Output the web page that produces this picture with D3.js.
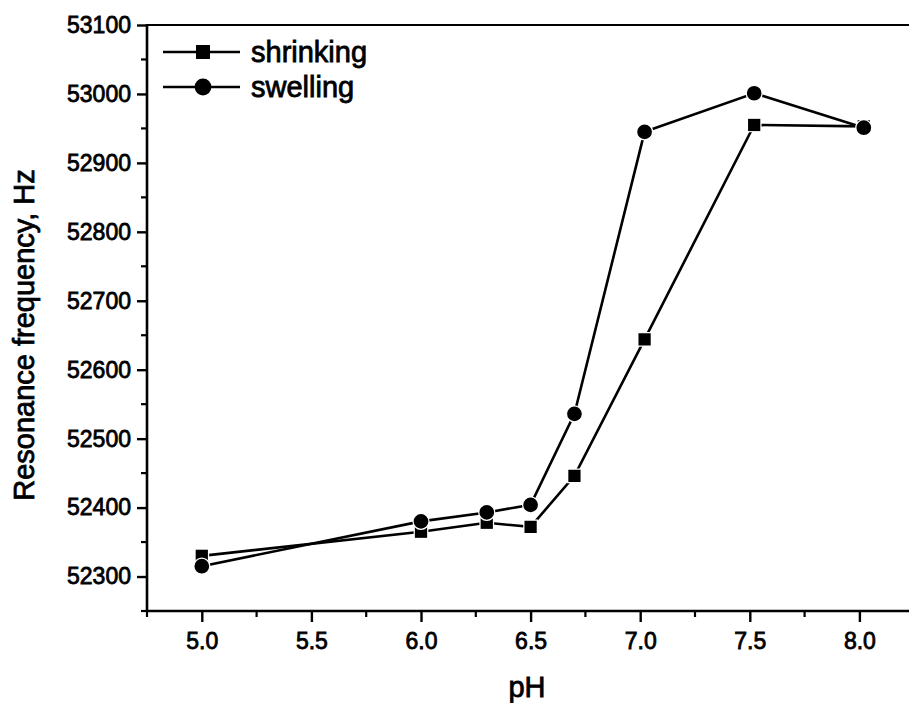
<!DOCTYPE html>
<html>
<head>
<meta charset="utf-8">
<script src="https://cdn.jsdelivr.net/npm/d3@7"></script>
<style>
  html, body { margin: 0; padding: 0; background: #fff; }
  svg { display: block; }
  text { font-family: "Liberation Sans", Arial, sans-serif; fill: #000; }
</style>
</head>
<body>
<svg id="chart" width="909" height="703"></svg>
<script>
// pH sweep values and measured resonance frequencies (Hz)
const pH = [5.0, 6.0, 6.3, 6.5, 6.7, 7.02, 7.52, 8.02];
const shrinking = [52330, 52365, 52378, 52372, 52446, 52644, 52955, 52953];
const swelling  = [52315, 52380, 52393, 52404, 52536, 52945, 53001, 52951];

const xTicks = [5.0, 5.5, 6.0, 6.5, 7.0, 7.5, 8.0];
const yTicks = [52300, 52400, 52500, 52600, 52700, 52800, 52900, 53000, 53100];
const seriesNames = ["shrinking", "swelling"];

const svg = d3.select("#chart");
const W = 909, H = 703;
svg.append("rect").attr("width", W).attr("height", H).attr("fill", "#fff");

const plotLeft = 147, plotTop = 25, plotBottom = 611;
const x = d3.scaleLinear().domain([4.75, 8.25]).range([plotLeft, plotLeft + 3.5 * 219.2]);
const y = d3.scaleLinear().domain([52250, 53100]).range([plotBottom, plotTop]);

const axisW = 2.6;
const textStroke = 0.8;

// frame top line (right edge falls outside the view)
svg.append("line")
  .attr("x1", plotLeft).attr("x2", x(8.25))
  .attr("y1", plotTop).attr("y2", plotTop)
  .attr("stroke", "#000").attr("stroke-width", 2.2);

// minor ticks
const xMinor = d3.range(4.75, 8.26, 0.25).filter(v => !xTicks.some(t => Math.abs(t - v) < 1e-6));
const yMinor = d3.range(52250, 53101, 50).filter(v => !yTicks.includes(v));

const gx = svg.append("g").attr("transform", `translate(0,${plotBottom})`);
gx.call(d3.axisBottom(x).tickValues(xTicks).tickFormat(d3.format(".1f")).tickSize(11).tickPadding(11));
gx.selectAll(".minor").data(xMinor).enter().append("line")
  .attr("x1", d => x(d)).attr("x2", d => x(d)).attr("y1", 0).attr("y2", 6)
  .attr("stroke", "#000").attr("stroke-width", 2.2);

const gy = svg.append("g").attr("transform", `translate(${plotLeft},0)`);
gy.call(d3.axisLeft(y).tickValues(yTicks).tickFormat(d3.format("d")).tickSize(10).tickPadding(6));
gy.selectAll(".minor").data(yMinor).enter().append("line")
  .attr("x1", 0).attr("x2", -6).attr("y1", d => y(d)).attr("y2", d => y(d))
  .attr("stroke", "#000").attr("stroke-width", 2.2);

[gx, gy].forEach(g => {
  g.select(".domain").attr("stroke", "#000").attr("stroke-width", axisW);
  g.selectAll(".tick line").attr("stroke", "#000").attr("stroke-width", 2.4);
  g.selectAll(".tick text")
    .style("font-family", "'Liberation Sans', Arial, sans-serif")
    .style("font-size", "23px")
    .attr("fill", "#000")
    .attr("stroke", "#000").attr("stroke-width", textStroke);
});
gx.select(".domain").attr("d", `M${plotLeft},0H${x(8.25)}`);
gy.select(".domain").attr("d", `M0,${plotBottom + 1}V${plotTop - 1}`);

// axis titles
svg.append("text")
  .attr("x", 527).attr("y", 697)
  .attr("text-anchor", "middle")
  .style("font-size", "29px")
  .attr("stroke", "#000").attr("stroke-width", textStroke)
  .text("pH");
svg.append("text")
  .attr("transform", "translate(34,335) rotate(-90)")
  .attr("text-anchor", "middle")
  .style("font-size", "29px")
  .attr("stroke", "#000").attr("stroke-width", textStroke)
  .text("Resonance frequency, Hz");

// data lines
const line = d3.line().x(d => x(d[0])).y(d => y(d[1]));
const series = [
  { name: seriesNames[0], values: shrinking, shape: d3.symbolSquare, size: 150 },
  { name: seriesNames[1], values: swelling, shape: d3.symbolCircle, size: 170 }
];

series.forEach(s => {
  const pts = pH.map((p, i) => [p, s.values[i]]);
  svg.append("path").datum(pts)
    .attr("d", line)
    .attr("fill", "none").attr("stroke", "#000").attr("stroke-width", 2.6);
});
// markers with a white rim so lines stop short of them
series.forEach(s => {
  svg.append("g").selectAll("path")
    .data(pH.map((p, i) => [p, s.values[i]]))
    .enter().append("path")
    .attr("transform", d => `translate(${x(d[0])},${y(d[1])})`)
    .attr("d", d3.symbol().type(s.shape).size(s.size))
    .attr("fill", "#000").attr("stroke", "#fff").attr("stroke-width", 2.5)
    .attr("paint-order", "stroke");
});

// legend
const legend = svg.append("g");
const legY = [52, 87];
series.forEach((s, i) => {
  legend.append("line")
    .attr("x1", 163).attr("x2", 240).attr("y1", legY[i]).attr("y2", legY[i])
    .attr("stroke", "#000").attr("stroke-width", 2.6);
  legend.append("path")
    .attr("transform", `translate(203,${legY[i]})`)
    .attr("d", d3.symbol().type(s.shape).size(s.size * 1.3))
    .attr("fill", "#000");
  legend.append("text")
    .attr("x", 251).attr("y", legY[i] + 10)
    .style("font-size", "29px")
    .attr("stroke", "#000").attr("stroke-width", textStroke)
    .text(s.name);
});
</script>
</body>
</html>
